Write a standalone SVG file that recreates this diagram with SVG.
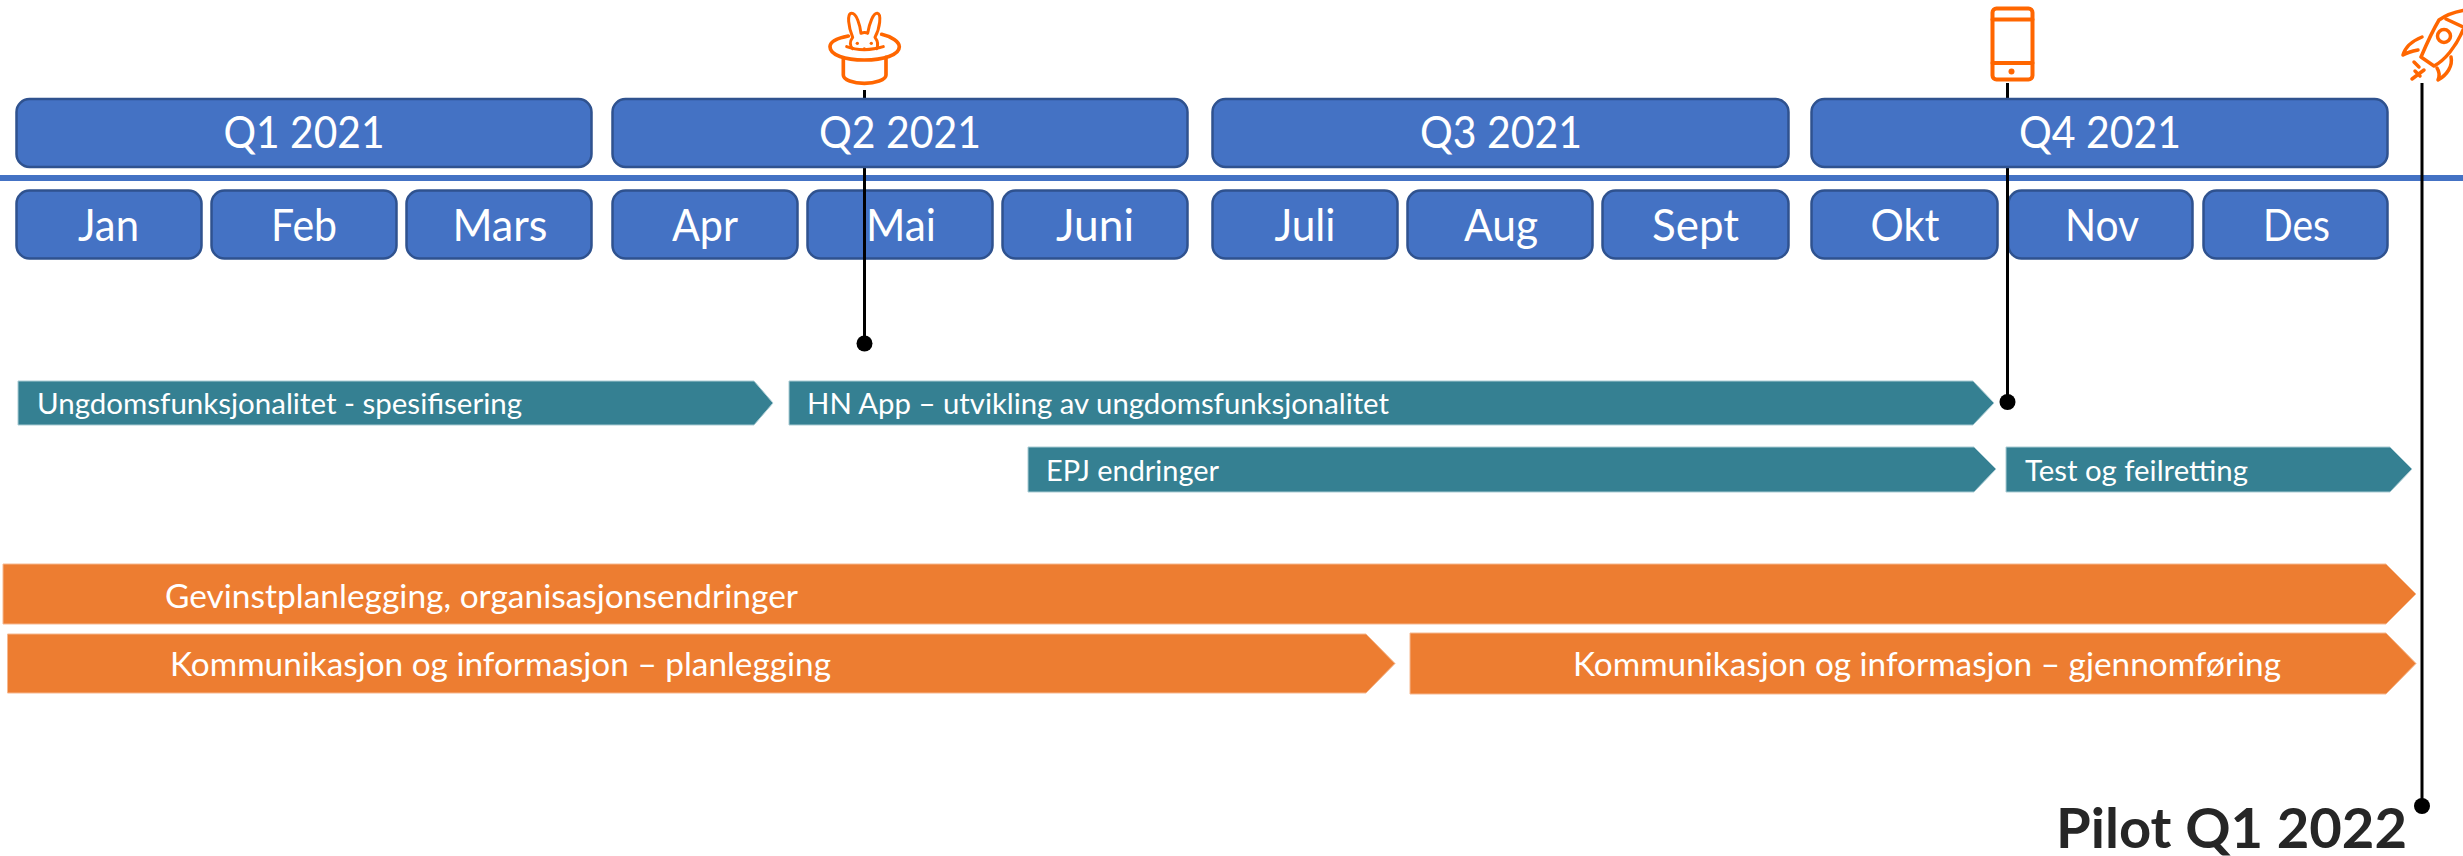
<svg xmlns="http://www.w3.org/2000/svg" width="2463" height="856" viewBox="0 0 2463 856">
<style>
text{font-family:"Lato","Liberation Sans",sans-serif;fill:#fff}
.q rect,.m rect{fill:#4472C4;stroke:#2F528F;stroke-width:2.5}
.q text,.m text{font-size:45px;text-anchor:middle}
.t polygon{fill:#358092;stroke:#A9CBD3;stroke-width:1}
.o polygon{fill:#ED7D31;stroke:#F6B88F;stroke-width:1}
.t text{font-size:28px}
.o text{font-size:32px}
.c line{stroke:#000;stroke-width:3}
.c circle{fill:#000}
.i *{fill:none;stroke:#FF6600;stroke-linecap:round;stroke-linejoin:round}
.i .d{fill:#FF6600;stroke:none}
</style>
<rect width="2463" height="856" fill="#fff"/>
<rect id="divider" x="0" y="175" width="2463" height="6" fill="#4472C4"/>
<g id="month-jan" class="m"><rect x="16.500" y="190.500" width="185" height="68" rx="13"/><text x="108.500" y="241" textLength="61" lengthAdjust="spacingAndGlyphs">Jan</text></g>
<g id="month-feb" class="m"><rect x="211.500" y="190.500" width="185" height="68" rx="13"/><text x="304" y="241" textLength="66" lengthAdjust="spacingAndGlyphs">Feb</text></g>
<g id="month-mars" class="m"><rect x="406.500" y="190.500" width="185" height="68" rx="13"/><text x="500" y="241" textLength="95" lengthAdjust="spacingAndGlyphs">Mars</text></g>
<g id="month-apr" class="m"><rect x="612.500" y="190.500" width="185" height="68" rx="13"/><text x="705" y="241" textLength="66" lengthAdjust="spacingAndGlyphs">Apr</text></g>
<g id="month-mai" class="m"><rect x="807.500" y="190.500" width="185" height="68" rx="13"/></g>
<g id="month-juni" class="m"><rect x="1002.500" y="190.500" width="185" height="68" rx="13"/><text x="1095" y="241" textLength="78" lengthAdjust="spacingAndGlyphs">Juni</text></g>
<g id="month-juli" class="m"><rect x="1212.500" y="190.500" width="185" height="68" rx="13"/><text x="1305" y="241" textLength="61" lengthAdjust="spacingAndGlyphs">Juli</text></g>
<g id="month-aug" class="m"><rect x="1407.500" y="190.500" width="185" height="68" rx="13"/><text x="1501" y="241" textLength="74" lengthAdjust="spacingAndGlyphs">Aug</text></g>
<g id="month-sept" class="m"><rect x="1602.500" y="190.500" width="186" height="68" rx="13"/><text x="1695.500" y="241" textLength="87" lengthAdjust="spacingAndGlyphs">Sept</text></g>
<g id="month-okt" class="m"><rect x="1811.500" y="190.500" width="186" height="68" rx="13"/><text x="1905" y="241" textLength="69" lengthAdjust="spacingAndGlyphs">Okt</text></g>
<g id="month-nov" class="m"><rect x="2008.500" y="190.500" width="184" height="68" rx="13"/><text x="2102" y="241" textLength="74" lengthAdjust="spacingAndGlyphs">Nov</text></g>
<g id="month-des" class="m"><rect x="2203.500" y="190.500" width="184" height="68" rx="13"/><text x="2296.500" y="241" textLength="67" lengthAdjust="spacingAndGlyphs">Des</text></g>
<g id="connectors" class="c">
<line x1="864.500" y1="90" x2="864.500" y2="343"/><circle cx="864.500" cy="343.500" r="8"/>
<line x1="2007.500" y1="83" x2="2007.500" y2="402"/><circle cx="2007.500" cy="402" r="8"/>
<line x1="2422" y1="83" x2="2422" y2="806"/><circle cx="2422" cy="806" r="8"/>
</g>
<text id="month-mai-label" x="901" y="241" style="font-size:45px;text-anchor:middle" textLength="70" lengthAdjust="spacingAndGlyphs">Mai</text>
<g id="q1" class="q"><rect x="16.500" y="99" width="575" height="68" rx="13"/><text x="304" y="148" textLength="161" lengthAdjust="spacingAndGlyphs">Q1 2021</text></g>
<g id="q2" class="q"><rect x="612.500" y="99" width="575" height="68" rx="13"/><text x="900" y="148" textLength="162" lengthAdjust="spacingAndGlyphs">Q2 2021</text></g>
<g id="q3" class="q"><rect x="1212.500" y="99" width="576" height="68" rx="13"/><text x="1501" y="148" textLength="162" lengthAdjust="spacingAndGlyphs">Q3 2021</text></g>
<g id="q4" class="q"><rect x="1811.500" y="99" width="576" height="68" rx="13"/><text x="2100" y="148" textLength="162" lengthAdjust="spacingAndGlyphs">Q4 2021</text></g>
<g id="bar-spesifisering" class="t"><polygon points="18,381 754,381 773,403 754,425 18,425"/><text x="37" y="414" textLength="485" lengthAdjust="spacingAndGlyphs">Ungdomsfunksjonalitet - spesifisering</text></g>
<g id="bar-hn-app" class="t"><polygon points="789,381 1973,381 1994,403 1973,425 789,425"/><text x="807" y="414" textLength="582" lengthAdjust="spacingAndGlyphs">HN App – utvikling av ungdomsfunksjonalitet</text></g>
<g id="bar-epj" class="t"><polygon points="1028,447 1974,447 1996,469 1974,492 1028,492"/><text x="1046" y="480.500" textLength="173" lengthAdjust="spacingAndGlyphs">EPJ endringer</text></g>
<g id="bar-test" class="t"><polygon points="2006,447 2390,447 2412,469 2390,492 2006,492"/><text x="2025" y="480.500" textLength="223" lengthAdjust="spacingAndGlyphs">Test og feilretting</text></g>
<g id="bar-gevinst" class="o"><polygon points="3,564 2386,564 2416,594 2386,624 3,624"/><text x="165" y="607.500" textLength="633" lengthAdjust="spacingAndGlyphs">Gevinstplanlegging, organisasjonsendringer</text></g>
<g id="bar-planlegging" class="o"><polygon points="7.500,634 1366,634 1395,663.500 1366,693 7.500,693"/><text x="170" y="676" textLength="661" lengthAdjust="spacingAndGlyphs">Kommunikasjon og informasjon – planlegging</text></g>
<g id="bar-gjennomforing" class="o"><polygon points="1410,633 2386,633 2416,663.500 2386,694 1410,694"/><text x="1573" y="675.500" textLength="708" lengthAdjust="spacingAndGlyphs">Kommunikasjon og informasjon – gjennomføring</text></g>
<g id="icon-hat" class="i" transform="translate(780 0) scale(.3333)" stroke-width="10">
<path d="M205 108C170 115 150 125 150 140C150 165 195 180 253 180C310 180 358 165 358 140C358 125 335 110 305 103" style="stroke-width:11"/>
<path d="M200 140C230 152 275 152 310 140" style="stroke-width:9"/>
<path d="M218 112C205 80 200 40 215 40C230 40 240 75 243 100C250 97 258 97 263 100C268 70 280 38 292 40C305 42 300 85 285 112C295 125 295 135 290 146M218 112C208 125 210 138 218 146" style="stroke-width:9"/>
<circle class="d" cx="232" cy="130" r="5"/><circle class="d" cx="274" cy="130" r="5"/><circle class="d" cx="253" cy="147" r="5"/>
<path d="M190 176V225C190 240 220 250 253 250C285 250 318 240 318 225V172" style="stroke-width:11"/>
</g>
<g id="icon-phone" class="i">
<rect x="1992.500" y="8.500" width="40" height="71" rx="4" stroke-width="4"/>
<path d="M1992.500 19.500H2032.500M1992.500 63H2032.500" stroke-width="4"/>
<circle class="d" cx="2011.500" cy="71.500" r="3"/>
</g>
<g id="icon-rocket" class="i" stroke-width="3.500">
<path d="M2421 57L2434 66C2444 61 2456 47 2463 30M2421 57C2427 43 2433 30 2439 20C2446 15 2455 12 2463 10.500"/>
<path d="M2446 19L2463 27"/>
<circle cx="2444" cy="36" r="6.500"/>
<path d="M2422 37C2412 41 2405 48 2403 55C2408 52 2413 51 2418 50"/>
<path d="M2451 57C2453 66 2447 75 2438 80C2440 75 2439 71 2437 68"/>
<path d="M2414 62L2419 67M2415 71L2420 76M2412 79L2424 70"/>
</g>
<text id="pilot-label" x="2056" y="848" style="font-size:56px;font-weight:700;fill:#262626" textLength="351" lengthAdjust="spacingAndGlyphs">Pilot Q1 2022</text>
</svg>
